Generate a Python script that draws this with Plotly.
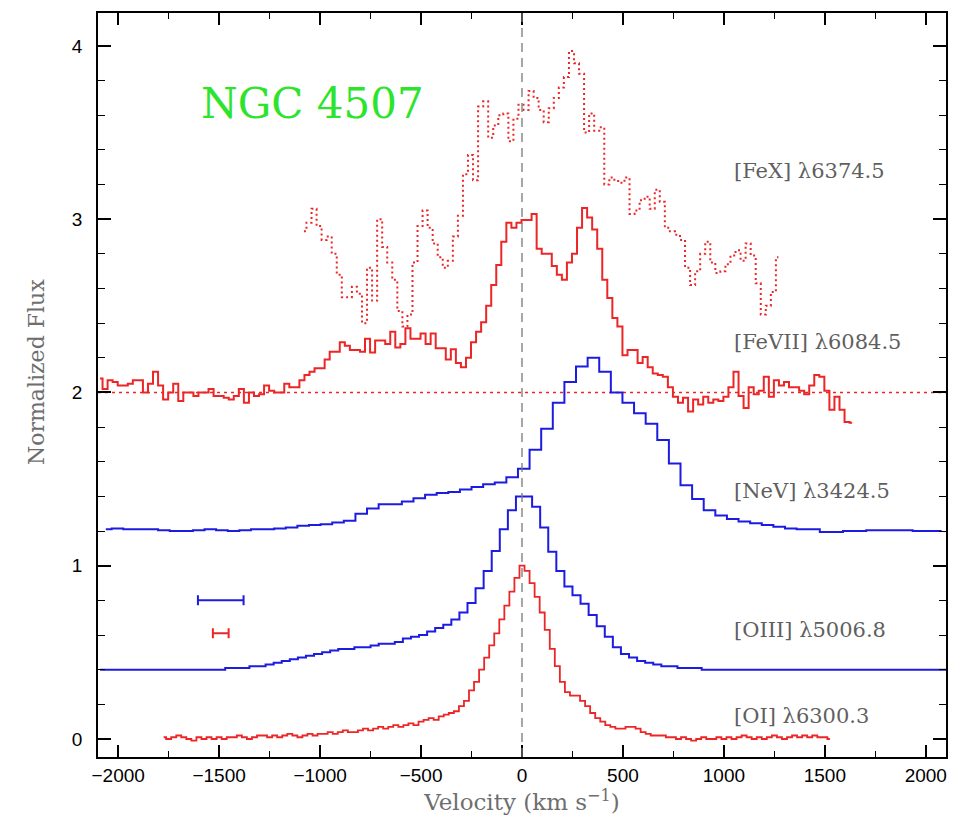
import numpy as np
import plotly.graph_objects as go

# ---------------- data ----------------
# [OI] 6300.3 (red solid), bins of 25 km/s starting at -1775
oi_v0, oi_dv = -1775, 25
oi_flux = [0.01, 0.00, 0.01, 0.02, 0.01, 0.00, -0.01, 0.01, 0.00, 0.01, 0.00, 0.01,
           0.00, 0.01, 0.01, 0.02, 0.01, 0.00, 0.01, 0.02, 0.02, 0.01, 0.02, 0.01, 0.02, 0.03, 0.02, 0.01, 0.02, 0.03, 0.02, 0.03,
           0.03, 0.04, 0.03, 0.04, 0.05, 0.04, 0.04, 0.05, 0.06, 0.05, 0.06, 0.07, 0.06, 0.07, 0.08, 0.07, 0.08, 0.09, 0.08, 0.10,
           0.11, 0.12, 0.11, 0.13, 0.14, 0.15, 0.16, 0.19, 0.22,
           0.28, 0.33, 0.40, 0.47, 0.54, 0.61, 0.69, 0.77, 0.85, 0.93, 1.00,
           0.97, 0.90, 0.82, 0.73, 0.63, 0.52, 0.42, 0.33, 0.27, 0.25, 0.25, 0.22,
           0.19, 0.15, 0.12, 0.10, 0.08, 0.07, 0.06, 0.06, 0.07, 0.07, 0.06, 0.04, 0.03, 0.02,
           0.02, 0.02, 0.01, 0.01, 0.00, 0.01, 0.00, -0.01, 0.00, 0.01, 0.00, 0.00, 0.01, 0.00, 0.01, 0.00, 0.01, 0.02,
           0.01, 0.00, 0.01, 0.00, 0.01, 0.02, 0.01, 0.00, 0.01, 0.02, 0.01, 0.02, 0.01, 0.02, 0.01, 0.01, 0.00]

# [OIII] 5006.8 (blue), bins of 40 km/s starting at -2090
oiii_v0, oiii_dv = -2090, 40
oiii_flux = [0.40, 0.40, 0.40, 0.40, 0.40, 0.40, 0.40, 0.40, 0.40, 0.40, 0.40, 0.40, 0.40, 0.40, 0.40,
             0.40, 0.41, 0.41, 0.41, 0.42, 0.42, 0.43, 0.44, 0.45, 0.46, 0.47, 0.48, 0.49, 0.50, 0.51, 0.52,
             0.52, 0.53, 0.53, 0.54, 0.55, 0.55, 0.56, 0.58, 0.59, 0.60, 0.62, 0.64, 0.66, 0.69, 0.73, 0.785,
             0.87, 0.97, 1.085, 1.21, 1.32,
             1.40,
             1.40, 1.34, 1.22, 1.08, 0.97, 0.88, 0.83, 0.78, 0.715, 0.65, 0.59, 0.53, 0.49, 0.47, 0.45, 0.44,
             0.43, 0.42, 0.42, 0.41,
             0.41, 0.41, 0.40, 0.40, 0.40, 0.40, 0.40, 0.40, 0.40, 0.40, 0.40, 0.40, 0.40, 0.40, 0.40, 0.40,
             0.40, 0.40, 0.40, 0.40, 0.40, 0.40, 0.40, 0.40, 0.40, 0.40, 0.40, 0.40, 0.40, 0.40, 0.40, 0.40, 0.40]

# [NeV] 3424.5 (blue, offset), bins of 57.5 km/s starting at -2061.25
nev_v0, nev_dv = -2061.25, 57.5
nev_flux = [1.21, 1.215, 1.21, 1.21, 1.21, 1.205, 1.20, 1.20, 1.205, 1.21, 1.205, 1.20, 1.205, 1.21, 1.21,
            1.215, 1.22, 1.23, 1.235, 1.24, 1.25, 1.26, 1.30, 1.33, 1.355, 1.355, 1.37, 1.39, 1.41, 1.42,
            1.425, 1.44, 1.455, 1.47, 1.48, 1.51,
            1.56, 1.67, 1.79, 1.94, 2.06, 2.15, 2.20, 2.12, 2.00, 1.94, 1.88, 1.82, 1.725, 1.59, 1.465, 1.385,
            1.32, 1.29, 1.27, 1.255, 1.245, 1.235, 1.225, 1.215, 1.21, 1.21, 1.195, 1.195,
            1.20, 1.20, 1.205, 1.205, 1.205, 1.205, 1.20, 1.20, 1.20]

# [FeVII] 6084.5 (red solid, offset 2), bins of 25 km/s starting at -2090
fevii_v0, fevii_dv = -2090, 25
fevii_flux = [2.08, 2.02, 2.07, 2.06, 2.04, 2.04, 2.05, 2.07, 2.07, 2.00,
              2.05, 2.12, 2.04, 1.96, 2.00, 2.05, 1.95, 2.00, 2.00, 1.98,
              2.00, 2.00, 2.02, 1.98, 1.98, 1.97, 1.96, 1.98, 2.02, 1.94,
              2.00, 1.98, 1.99, 2.04, 2.01, 2.00, 2.00, 2.05, 2.03, 2.03, 2.07,
              2.10, 2.12, 2.14, 2.14,
              2.19, 2.235, 2.235, 2.29, 2.27, 2.245, 2.245, 2.235, 2.31, 2.23,
              2.30, 2.30, 2.28, 2.35, 2.26, 2.28, 2.37, 2.31, 2.31, 2.34,
              2.28, 2.34, 2.255, 2.255, 2.19, 2.25, 2.17, 2.145, 2.20, 2.29,
              2.35, 2.405, 2.50, 2.62, 2.735, 2.87, 2.98, 2.95, 2.98, 2.995,
              2.995, 3.03, 2.83, 2.80, 2.80, 2.73, 2.68, 2.65, 2.75, 2.80,
              2.95, 3.065, 3.01, 2.94, 2.83, 2.65, 2.545, 2.43, 2.38, 2.215,
              2.245, 2.245, 2.17, 2.205, 2.145, 2.11, 2.10, 2.09, 2.03,
              1.975, 1.94, 1.97, 1.89, 1.96, 1.93, 1.975, 1.94, 1.96, 1.95,
              1.975, 2.03, 2.12, 1.98, 1.91, 2.03, 1.99, 2.01, 2.09, 1.975,
              2.07, 2.04, 2.06, 2.03, 2.03, 2.01, 1.99, 2.04, 2.10, 2.09,
              2.01, 1.90, 1.975, 1.90, 1.83, 1.825]

# [FeX] 6374.5 (red dotted, offset), bins of 25 km/s starting at -1080
fex_v0, fex_dv = -1080, 25
fex_flux = [2.93, 2.98, 3.06, 2.96, 2.88, 2.90, 2.80, 2.68, 2.55, 2.55,
            2.61, 2.57, 2.40, 2.72, 2.53, 3.00, 2.84, 2.75, 2.65, 2.47,
            2.38, 2.45, 2.75, 2.96, 3.05, 2.95, 2.86, 2.78, 2.72, 2.76,
            2.90, 3.02, 3.26, 3.37, 3.225, 3.65, 3.68, 3.47, 3.54, 3.60,
            3.61, 3.45, 3.58, 3.66, 3.63, 3.74, 3.70, 3.63, 3.56, 3.64,
            3.70, 3.76, 3.82, 3.97, 3.90, 3.84, 3.50, 3.61, 3.51, 3.53,
            3.20, 3.24, 3.22, 3.21, 3.24, 3.03, 3.05, 3.11, 3.13, 3.06,
            3.17, 3.10, 2.95, 2.93, 2.91, 2.88, 2.72, 2.62, 2.70, 2.80,
            2.87, 2.75, 2.69, 2.70, 2.74, 2.79, 2.82, 2.76, 2.86, 2.79,
            2.63, 2.45, 2.50, 2.58, 2.78]

fevii_baseline = 2.0

# velocity resolution bars: centre, half-width, level
res_center = [-1492, -1492]
res_halfwidth = [113, 39]
res_level = [0.80, 0.61]

x_ticks = [-2000, -1500, -1000, -500, 0, 500, 1000, 1500, 2000]
y_ticks = [0, 1, 2, 3, 4]

labels = ["[FeX] λ6374.5", "[FeVII] λ6084.5", "[NeV] λ3424.5", "[OIII] λ5006.8", "[OI] λ6300.3"]
label_y = [3.28, 2.29, 1.43, 0.63, 0.13]
label_x = 1042

RED = "rgb(236,38,38)"
BLUE = "rgb(28,28,225)"
GRAY = "rgb(110,110,110)"


def grid(v0, dv, vals):
    return v0 + dv * np.arange(len(vals))


fig = go.Figure()

# baseline for FeVII
fig.add_trace(go.Scatter(x=[-2100, 2100], y=[fevii_baseline, fevii_baseline], mode="lines",
                         line=dict(color=RED, width=1.5, dash="3px,4px"), hoverinfo="skip"))

fig.add_trace(go.Scatter(x=grid(fex_v0, fex_dv, fex_flux), y=fex_flux, mode="lines",
                         line=dict(color=RED, width=2, dash="2px,3px", shape="hvh")))
fig.add_trace(go.Scatter(x=grid(fevii_v0, fevii_dv, fevii_flux), y=fevii_flux, mode="lines",
                         line=dict(color=RED, width=2, shape="hvh")))
fig.add_trace(go.Scatter(x=grid(nev_v0, nev_dv, nev_flux), y=nev_flux, mode="lines",
                         line=dict(color=BLUE, width=2, shape="hvh")))
fig.add_trace(go.Scatter(x=grid(oiii_v0, oiii_dv, oiii_flux), y=oiii_flux, mode="lines",
                         line=dict(color=BLUE, width=2, shape="hvh")))
fig.add_trace(go.Scatter(x=grid(oi_v0, oi_dv, oi_flux), y=oi_flux, mode="lines",
                         line=dict(color=RED, width=1.8, shape="hvh")))

# resolution bars
for c, hw, lvl, col in zip(res_center, res_halfwidth, res_level, [BLUE, RED]):
    fig.add_trace(go.Scatter(x=[c], y=[lvl], mode="markers", marker=dict(size=1, color=col, opacity=0),
                             error_x=dict(type="data", array=[hw], color=col, thickness=2, width=5)))

# zero-velocity line
fig.add_shape(type="line", x0=0, x1=0, y0=0, y1=1, xref="x", yref="paper",
              line=dict(color="rgb(120,120,120)", width=1.3, dash="9px,6px"))

fig.add_annotation(x=-1040, y=3.67, text="NGC 4507", showarrow=False,
                   font=dict(family="DejaVu Serif", size=42, color="rgb(45,228,45)"))
for t, ly in zip(labels, label_y):
    fig.add_annotation(x=label_x, y=ly, text=t, showarrow=False, xanchor="left",
                       font=dict(family="DejaVu Serif", size=21, color="rgb(95,95,95)"))

# y-axis title placed as an annotation to match the original's position
fig.add_annotation(x=-0.0894, y=0.517, xref="paper", yref="paper", text="Normalized Flux",
                   showarrow=False, textangle=-90,
                   font=dict(family="DejaVu Serif", size=22, color=GRAY))

axis_common = dict(showgrid=False, zeroline=False, showline=True, linecolor="black", linewidth=1.5,
                   mirror="allticks", ticks="inside", tickcolor="black", tickwidth=1.5,
                   tickfont=dict(family="Liberation Sans", size=19, color="black"))

fig.update_layout(
    width=954, height=819,
    margin=dict(l=98, r=6, t=13, b=62),
    paper_bgcolor="white", plot_bgcolor="white",
    showlegend=False,
    xaxis=dict(range=[-2100, 2100], tickvals=x_ticks, ticklen=12,
               minor=dict(dtick=250, tick0=0, ticklen=6, ticks="inside", tickcolor="black", tickwidth=1.2),
               title=dict(text="Velocity (km s<sup>−1</sup>)", standoff=5,
                          font=dict(family="DejaVu Serif", size=23, color=GRAY)),
               **axis_common),
    yaxis=dict(range=[-0.104, 4.19], tickvals=y_ticks, ticklen=13, ticklabelstandoff=10,
               minor=dict(dtick=0.2, tick0=0, ticklen=7, ticks="inside", tickcolor="black", tickwidth=1.2),
               **axis_common),
)

fig.write_html("out.html")
